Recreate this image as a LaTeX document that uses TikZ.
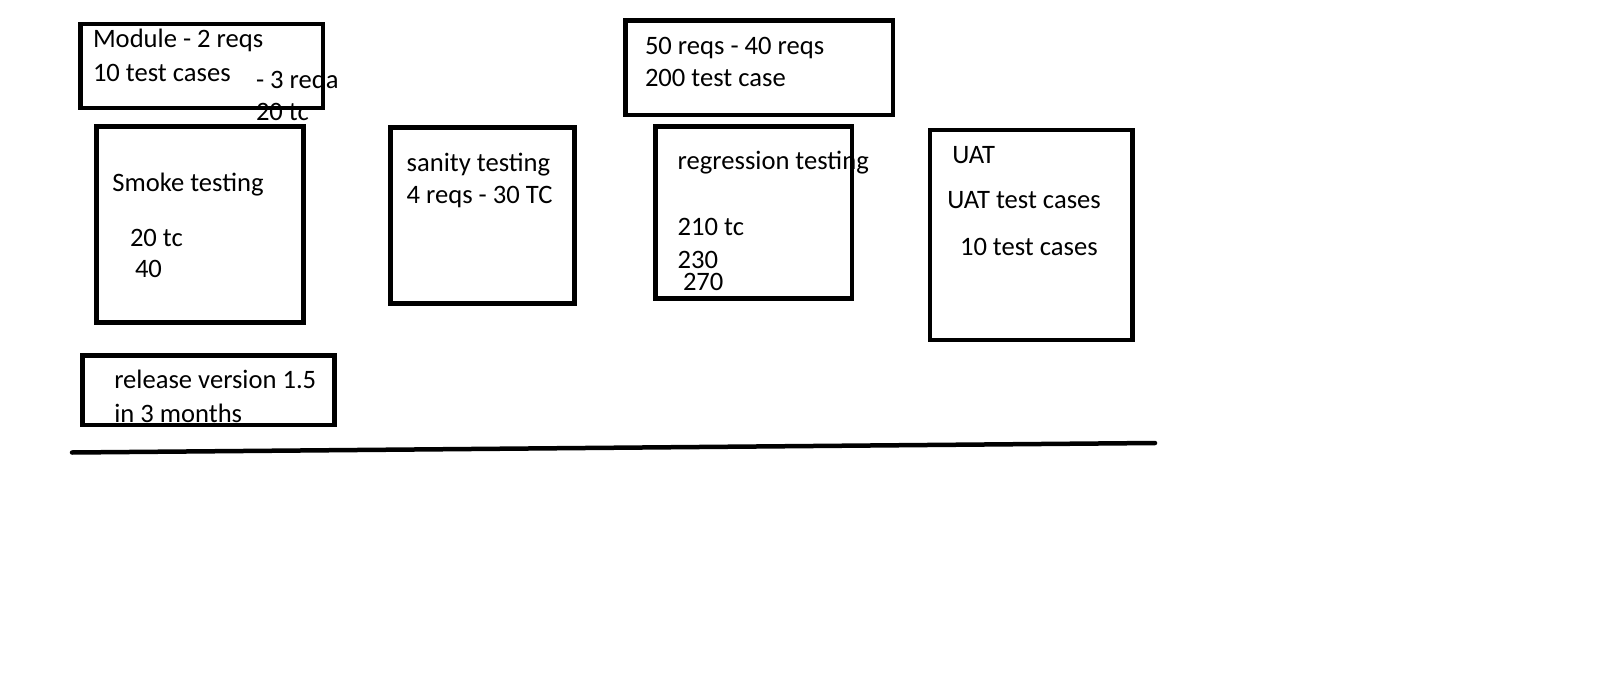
\documentclass[tikz,border=0pt]{standalone}
\usepackage{fontspec}
\setmainfont{Carlito}
\begin{document}
\begin{tikzpicture}[x=1pt,y=-1pt,
  box/.style={draw=black, line width=4.5pt, rectangle, inner sep=0pt, outer sep=0pt, anchor=north west},
  txt/.style={anchor=base west, inner sep=0pt, outer sep=0pt, font=\fontsize{26.6}{32}\selectfont}]
\useasboundingbox[fill=white] (0,0) rectangle (1602,695);
% boxes
\node[box, minimum width=242.5pt, minimum height=84pt] (module) at (80.5,24) {};
\node[box, minimum width=206.6pt, minimum height=196pt] (smoke) at (96.7,126.7) {};
\node[box, minimum width=183.7pt, minimum height=176pt] (sanity) at (390.6,127.3) {};
\node[box, minimum width=267.5pt, minimum height=94.5pt] (reqs) at (625.5,20.5) {};
\node[box, minimum width=196.5pt, minimum height=172pt] (regr) at (655.5,126.5) {};
\node[box, minimum width=202.7pt, minimum height=210pt] (uat) at (930,130) {};
\node[box, minimum width=252pt, minimum height=69.4pt] (release) at (82.3,355.6) {};
% texts
\node[txt] (t1) at (93,48) {Module - 2 reqs};
\node[txt] (t2) at (93,81.3) {10 test cases};
\node[txt] (t3) at (256,88.5) {- 3 reqa};
\begin{scope}
\clip (240,95) rectangle (400,120.5);
\node[txt] (t4) at (256,121) {20 tc};
\end{scope}
\node[txt] (t5) at (112.3,191.5) {Smoke testing};
\node[txt] (t6) at (130,246) {20 tc};
\node[txt] (t7) at (135,277) {40};
\node[txt] (t8) at (406.7,171.5) {sanity testing};
\node[txt] (t9) at (406.7,203.8) {4 reqs - 30 TC};
\node[txt] (t10) at (645,54.5) {50 reqs - 40 reqs};
\node[txt] (t11) at (645,87) {200 test case};
\node[txt] (t12) at (677.7,169.5) {regression testing};
\node[txt] (t13) at (677.7,235.5) {210 tc};
\node[txt] (t14) at (677.7,268) {230};
\node[txt] (t15) at (683,290.5) {270};
\node[txt] (t16) at (952.3,163.8) {UAT};
\node[txt] (t17) at (947.3,208.8) {UAT test cases};
\node[txt] (t18) at (960,255.5) {10 test cases};
\node[txt] (t19) at (114.3,388.8) {release version 1.5};
\node[txt] (t20) at (114.3,422) {in 3 months};
% bottom line
\coordinate (l1) at (72,452.5);
\coordinate (l2) at (1155,443);
\draw[line width=4.5pt, line cap=round] (l1) -- (l2);
\end{tikzpicture}
\end{document}
